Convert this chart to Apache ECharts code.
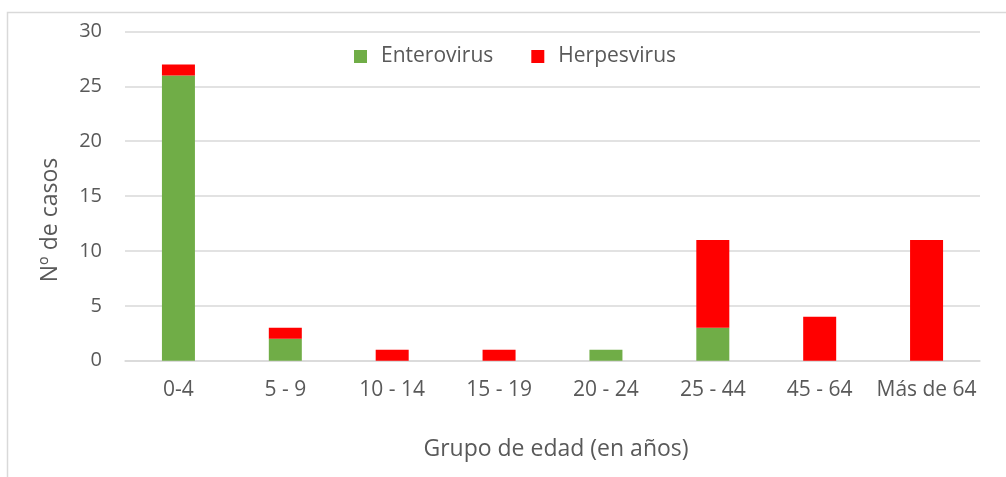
<!DOCTYPE html>
<html>
<head>
<meta charset="utf-8">
<script src="https://cdn.jsdelivr.net/npm/echarts@6/dist/echarts.min.js"></script>
<style>
  html, body { margin: 0; padding: 0; background: #fff; }
  #chart { width: 1006px; height: 477px; }
</style>
</head>
<body>
<div id="chart"></div>
<script>
// Age groups and case counts per virus family
const categories = ['0-4', '5 - 9', '10 - 14', '15 - 19', '20 - 24', '25 - 44', '45 - 64', 'Más de 64'];
const enterovirus = [26, 2, 0, 0, 1, 3, 0, 0];
const herpesvirus = [1, 1, 1, 1, 0, 8, 4, 11];
const yTicks = { min: 0, max: 30, interval: 5 };

const FONT = '"Open Sans", "Liberation Sans", sans-serif';
const TEXT = '#595959';
const GRID = '#d9d9d9';

const chart = echarts.init(document.getElementById('chart'), null, { renderer: 'canvas' });
chart.setOption({
  animation: false,
  backgroundColor: '#fff',
  textStyle: { fontFamily: FONT, color: TEXT },
  graphic: [
    { type: 'rect', shape: { x: 7.5, y: 12.5, width: 1010, height: 480 },
      style: { fill: 'none', stroke: GRID, lineWidth: 1.5 }, z: -1 },
    { type: 'text', x: 556, y: 449, style: { text: 'Grupo de edad (en años)', fill: TEXT,
      font: '23px ' + FONT, textAlign: 'center', textVerticalAlign: 'middle' } },
    { type: 'text', x: 50, y: 220, rotation: Math.PI / 2, style: { text: 'Nº de casos', fill: TEXT,
      font: '23px ' + FONT, textAlign: 'center', textVerticalAlign: 'middle' } }
  ],
  legend: {
    left: 349, top: 41,
    icon: 'rect', itemWidth: 13, itemHeight: 13, itemGap: 38,
    textStyle: { fontFamily: FONT, fontSize: 21, color: TEXT, padding: [0, 0, 0, 9] },
    data: ['Enterovirus', 'Herpesvirus']
  },
  grid: { left: 125, right: 26, top: 31.5, bottom: 116.3, containLabel: false },
  xAxis: {
    type: 'category',
    data: categories,
    axisLine: { lineStyle: { color: GRID, width: 1.5 } },
    axisTick: { show: false },
    axisLabel: { color: TEXT, fontSize: 21, fontFamily: FONT, margin: 19, interval: 0 }
  },
  yAxis: {
    type: 'value',
    min: yTicks.min, max: yTicks.max, interval: yTicks.interval,
    axisLine: { show: false },
    axisTick: { show: false },
    axisLabel: { color: TEXT, fontSize: 20, fontFamily: FONT, margin: 23 },
    splitLine: { lineStyle: { color: GRID, width: 1.5 } }
  },
  series: [
    { name: 'Enterovirus', type: 'bar', stack: 'casos', data: enterovirus,
      barWidth: 33, itemStyle: { color: '#70ad47' } },
    { name: 'Herpesvirus', type: 'bar', stack: 'casos', data: herpesvirus,
      barWidth: 33, itemStyle: { color: '#ff0000' } }
  ]
});
</script>
</body>
</html>
